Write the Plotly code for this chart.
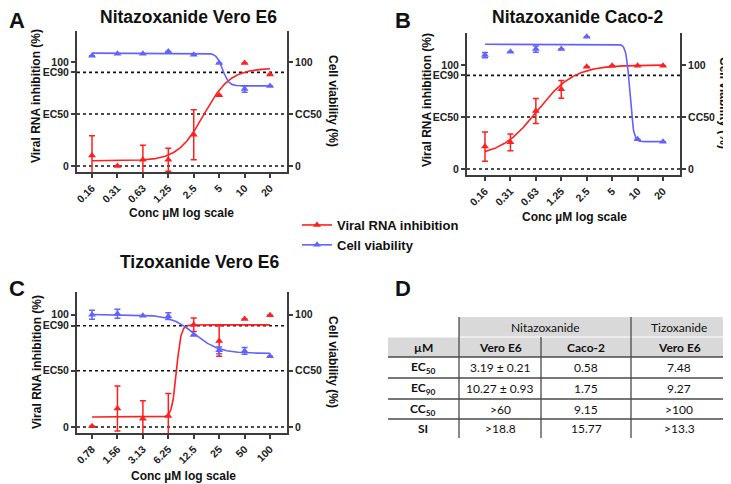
import numpy as np
import plotly.graph_objects as go

W, H = 731, 484
PAGE_MARGIN = 8  # default body margin of the html page
FIG_W, FIG_H = W - PAGE_MARGIN, H - PAGE_MARGIN
RED = "#ff1f1f"
BLUE = "#6262ff"
AXIS = "#3c3c3c"
FONT = "Liberation Sans, Arial"
TABLE_FONT = "Lato"

# ---- data ----
# A: Nitazoxanide, Vero E6
conc_a = [0.15625, 0.3125, 0.625, 1.25, 2.5, 5, 10, 20]
labels_a = ["0.16", "0.31", "0.63", "1.25", "2.5", "5", "10", "20"]
rna_a = [10, 0, 6, 6, 30, 68, 99, 88]
rna_err_a = [19, 0, 14, 11, 24, 0, 0, 0]
viab_a = [106, 108, 108, 110, 107, 99, 74, 77]
viab_err_a = [0, 0, 0, 0, 0, 0, 3, 0]
fit_rna_a = (5, 94, 3.3, 2.8)       # start, end, midpoint conc, hill slope
fit_viab_a = (108.5, 77, 5.5, 12)

# B: Nitazoxanide, Caco-2
conc_b = [0.15625, 0.3125, 0.625, 1.25, 2.5, 5, 10, 20]
labels_b = ["0.16", "0.31", "0.63", "1.25", "2.5", "5", "10", "20"]
rna_b = [21.5, 25.6, 55.8, 76.6, 98.4, 99.4, 99.4, 99.4]
rna_err_b = [14, 8, 12, 8.5, 0, 0, 0, 0]
viab_b = [109.6, 112.8, 115.4, 115.4, 127.2, None, 28.5, 26.3]
viab_err_b = [2.5, 0, 3, 0, 0, 0, 0, 0]
fit_rna_b = (12, 100, 0.65, 2)
fit_viab_b = (120, 26.3, 8.1, 20)

# C: Tizoxanide, Vero E6
conc_c = [0.78125, 1.5625, 3.125, 6.25, 12.5, 25, 50, 100]
labels_c = ["0.78", "1.56", "3.13", "6.25", "12.5", "25", "50", "100"]
rna_c = [0.6, 16.4, 7.4, 9.8, 90.8, 76.5, 96, 99.4]
rna_err_c = [0, 20, 16, 20, 6, 13.5, 0, 0]
viab_c = [99.7, 100.6, 98.8, 98.5, 81.8, 68.2, 67.6, 63]
viab_err_c = [4, 4, 0, 3, 0, 3, 3, 0]
fit_rna_c = (8.9, 90.8, 7.8, 16)
fit_viab_c = (100, 65.5, 12.8, 3)

# D: summary table
table_head = ["µM", "Vero E6", "Caco-2", "Vero E6"]
table_groups = ["Nitazoxanide", "Tizoxanide"]
row_labels = ["EC<sub>50</sub>", "EC<sub>90</sub>", "CC<sub>50</sub>", "SI"]
nitaz_vero = ["3.19 ± 0.21", "10.27 ± 0.93", ">60", ">18.8"]
nitaz_caco = ["0.58", "1.75", "9.15", "15.77"]
tiz_vero = ["7.48", "9.27", ">100", ">13.3"]


def px(x, y):
    # screen pixel -> paper fraction, allowing for the page margin
    return (x - PAGE_MARGIN) / FIG_W, 1 - (y - PAGE_MARGIN) / FIG_H


def hill(x, params):
    start, end, mid, slope = params
    x = np.asarray(x)
    return start + (end - start) / (1 + (mid / x) ** slope)


fig = go.Figure()

tick_font = dict(family=FONT, size=10.5, color="#222", weight="bold")
axis_common = dict(showline=True, linecolor=AXIS, linewidth=2, ticks="outside",
                   ticklen=4, tickwidth=1.5, tickcolor=AXIS, showgrid=False,
                   zeroline=False, tickfont=tick_font, automargin=False)

# panel geometry in pixels: (left, right, top, bottom), axis ranges
panels = [
    dict(conc=conc_a, labels=labels_a, rna=rna_a, rna_err=rna_err_a, viab=viab_a,
         viab_err=viab_err_a, fit_rna=fit_rna_a, fit_viab=fit_viab_a,
         box=(77, 287, 31, 172), xr=[-0.984, 1.502], yr=[-5.8, 129.8]),
    dict(conc=conc_b, labels=labels_b, rna=rna_b, rna_err=rna_err_b, viab=viab_b,
         viab_err=viab_err_b, fit_rna=fit_rna_b, fit_viab=fit_viab_b,
         box=(467, 680, 33, 175), xr=[-1.019, 1.502], yr=[-5.8, 130.8]),
    dict(conc=conc_c, labels=labels_c, rna=rna_c, rna_err=rna_err_c, viab=viab_c,
         viab_err=viab_err_c, fit_rna=fit_rna_c, fit_viab=fit_viab_c,
         box=(77, 287, 292, 433), xr=[-0.285, 2.201], yr=[-5.3, 120]),
]

shapes = []
for i, p in enumerate(panels):
    n = i + 1
    xname = "x" if n == 1 else f"x{n}"
    yl = 2 * n - 1
    yr_ = 2 * n
    ylname = "y" if yl == 1 else f"y{yl}"
    yrname = f"y{yr_}"
    left, right, top, bottom = p["box"]
    x0, y1 = px(left, top)
    x1, y0 = px(right, bottom)

    fig.layout[f"xaxis{'' if n == 1 else n}"] = dict(
        axis_common, type="log", domain=[x0, x1], range=p["xr"], anchor=ylname,
        tickvals=p["conc"], ticktext=p["labels"], tickangle=-45)
    fig.layout[f"yaxis{'' if yl == 1 else yl}"] = dict(
        axis_common, domain=[y0, y1], range=p["yr"], anchor=xname,
        tickvals=[0, 50, 90, 100], ticktext=["0", "EC50", "EC90", "100"])
    fig.layout[f"yaxis{yr_}"] = dict(
        axis_common, domain=[y0, y1], range=p["yr"], anchor=xname, overlaying=ylname,
        side="right", tickvals=[0, 50, 100], ticktext=["0", "CC50", "100"])

    for level in [0, 50, 90]:
        shapes.append(dict(type="line", xref=f"{xname} domain", yref=ylname,
                           x0=0, x1=1, y0=level, y1=level, layer="below",
                           line=dict(color="#111", width=1.6, dash="dot")))

    xs = np.logspace(np.log10(p["conc"][0]), np.log10(p["conc"][-1]), 300)
    fig.add_trace(go.Scatter(x=xs, y=hill(xs, p["fit_viab"]), mode="lines",
                             line=dict(color=BLUE, width=1.6), xaxis=xname,
                             yaxis=yrname, showlegend=False, hoverinfo="skip"))
    fig.add_trace(go.Scatter(x=xs, y=hill(xs, p["fit_rna"]), mode="lines",
                             line=dict(color=RED, width=1.6), xaxis=xname,
                             yaxis=ylname, showlegend=False, hoverinfo="skip"))
    fig.add_trace(go.Scatter(
        x=p["conc"], y=p["viab"], mode="markers", xaxis=xname, yaxis=yrname,
        marker=dict(symbol="triangle-up", size=7, color=BLUE), showlegend=False,
        error_y=dict(type="data", array=p["viab_err"], color=BLUE, thickness=1.5, width=3)))
    fig.add_trace(go.Scatter(
        x=p["conc"], y=p["rna"], mode="markers", xaxis=xname, yaxis=ylname,
        marker=dict(symbol="triangle-up", size=7, color=RED), showlegend=False,
        error_y=dict(type="data", array=p["rna_err"], color=RED, thickness=1.5, width=3)))

# legend entries
for name, color in [("Viral RNA inhibition", RED), ("Cell viability", BLUE)]:
    fig.add_trace(go.Scatter(x=[None], y=[None], mode="lines+markers", name=name,
                             line=dict(color=color, width=1.6),
                             marker=dict(symbol="triangle-up", size=7, color=color)))

bold = dict(family=FONT, color="#111", weight="bold")
annotations = []


def label(x, y, text, size, angle=0, **kw):
    ax, ay = px(x, y)
    annotations.append(dict(x=ax, y=ay, xref="paper", yref="paper", text=text,
                            showarrow=False, textangle=angle, xanchor="center",
                            yanchor="middle", font=dict(bold, size=size), **kw))


# panel letters and titles (top strip nudged below the page margin)
label(17, 20, "A", 22)
label(403, 20, "B", 22)
label(17, 288, "C", 22)
label(403, 288, "D", 22)
label(188, 17, "Nitazoxanide Vero E6", 17.5)
label(577, 17, "Nitazoxanide Caco-2", 17.5)
label(199, 262, "Tizoxanide Vero E6", 17.5)

# axis titles
label(36, 96, "Viral RNA inhibition (%)", 12, angle=-90)
label(427, 100, "Viral RNA inhibition (%)", 12, angle=-90)
label(37, 362, "Viral RNA inhibition (%)", 12, angle=-90)
label(333, 101, "Cell viability (%)", 12, angle=90)
label(724, 103, "Cell viability (%)", 12, angle=90)
label(333, 362, "Cell viability (%)", 12, angle=90)
label(181, 213, "Conc µM log scale", 12)
label(574, 217, "Conc µM log scale", 12)
label(183, 476, "Conc µM log scale", 12)

# ---- table D ----
col_edges = [388, 459, 541, 631, 727]
row_edges = [317, 337, 357, 378, 399, 419, 438]
GRAY = "#d9d9d9"
LINE = "#4a4a4a"


def rect(xa, ya, xb, yb, color):
    (ax, ay), (bx, by) = px(xa, ya), px(xb, yb)
    shapes.append(dict(type="rect", xref="paper", yref="paper", x0=ax, x1=bx,
                       y0=by, y1=ay, fillcolor=color, line=dict(width=0), layer="below"))


def seg(xa, ya, xb, yb, width=1.3, color=LINE):
    (ax, ay), (bx, by) = px(xa, ya), px(xb, yb)
    shapes.append(dict(type="line", xref="paper", yref="paper", x0=ax, x1=bx,
                       y0=ay, y1=by, line=dict(color=color, width=width)))


rect(col_edges[1], row_edges[0], col_edges[4], row_edges[1] - 0.5, GRAY)
rect(col_edges[0], row_edges[1] + 0.5, col_edges[4], row_edges[2], GRAY)
for r in row_edges[2:6]:
    seg(col_edges[0], r, col_edges[4], r)
seg(col_edges[1], row_edges[0], col_edges[1], row_edges[-1])
seg(col_edges[3], row_edges[0], col_edges[3], row_edges[-1])
seg(col_edges[2], row_edges[1], col_edges[2], row_edges[-1])


def cell(ci0, ci1, ri, text, weight="normal"):
    xc = (col_edges[ci0] + col_edges[ci1 + 1]) / 2
    yc = (row_edges[ri] + row_edges[ri + 1]) / 2
    ax, ay = px(xc, yc)
    annotations.append(dict(x=ax, y=ay, xref="paper", yref="paper", text=text,
                            showarrow=False, xanchor="center", yanchor="middle",
                            font=dict(family=TABLE_FONT, size=12, color="#111",
                                      weight=weight)))


cell(1, 2, 0, table_groups[0])
cell(3, 3, 0, table_groups[1])
for ci, h in enumerate(table_head):
    cell(ci, ci, 1, h, "bold")
for ri in range(len(row_labels)):
    cell(0, 0, ri + 2, row_labels[ri], "bold")
    cell(1, 1, ri + 2, nitaz_vero[ri])
    cell(2, 2, ri + 2, nitaz_caco[ri])
    cell(3, 3, ri + 2, tiz_vero[ri])

lx, ly = px(297, 210)
fig.update_layout(
    width=FIG_W, height=FIG_H, margin=dict(l=0, r=0, t=0, b=0),
    paper_bgcolor="white", plot_bgcolor="white",
    shapes=shapes, annotations=annotations,
    legend=dict(x=lx, y=ly, xanchor="left", yanchor="top", bgcolor="rgba(0,0,0,0)",
                font=dict(family=FONT, size=13, color="#111", weight="bold"),
                tracegroupgap=0),
)

fig.write_html("out.html")
